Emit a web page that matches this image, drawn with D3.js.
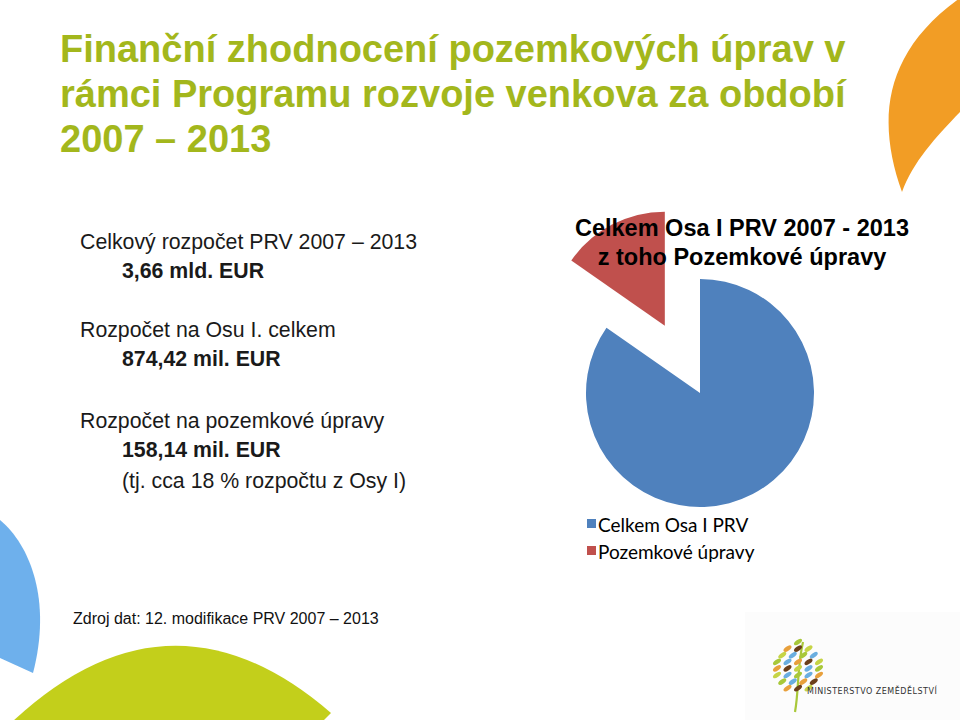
<!DOCTYPE html>
<html lang="cs">
<head>
<meta charset="UTF-8">
<title>Finanční zhodnocení pozemkových úprav</title>
<script src="https://d3js.org/d3.v7.min.js"></script>
<style>
  body { margin: 0; background: #fff; }
  svg { display: block; }
</style>
</head>
<body>
<script>
// chart data
var categories = ["Celkem Osa I PRV", "Pozemkové úpravy"];
var values = [874.42, 158.14];
var colors = ["#4f81bd", "#c0504d"];
var explode = [0, 76];

var titleLines = ["Finanční zhodnocení pozemkových úprav v", "rámci Programu rozvoje venkova za období", "2007 – 2013"];
var chartTitle = ["Celkem Osa I PRV 2007 - 2013", "z toho Pozemkové úpravy"];
var bullets = [
  {head: "Celkový rozpočet PRV 2007 – 2013", sub: ["3,66 mld. EUR"]},
  {head: "Rozpočet na Osu I. celkem", sub: ["874,42 mil. EUR"]},
  {head: "Rozpočet na pozemkové úpravy", sub: ["158,14 mil. EUR", "(tj. cca 18 % rozpočtu z Osy I)"]}
];
var source = "Zdroj dat: 12. modifikace PRV 2007 – 2013";

var svg = d3.select("body").append("svg")
  .attr("width", 960)
  .attr("height", 720);

// decorative shapes of the slide
svg.append("path")
  .attr("d", "M902,192 C878,125 880,55 960,-2 L960,112 C935,138 913,162 902,192 Z")
  .attr("fill", "#f29d25");
svg.append("path")
  .attr("d", "M0,520 C30,545 52,600 33,673 L0,658 Z")
  .attr("fill", "#6eb0ec");
svg.append("path")
  .attr("d", "M12,722 Q170,574 331,713 L322,722 Z")
  .attr("fill", "#c3cf1b");
svg.append("rect")
  .attr("x", 745).attr("y", 612).attr("width", 215).attr("height", 108)
  .attr("fill", "#fcfcfc");

// title
svg.append("g").selectAll("text")
  .data(titleLines)
  .join("text")
  .attr("x", 60)
  .attr("y", (d, i) => 62 + i * 45)
  .attr("font-family", "Liberation Sans, Arial, sans-serif")
  .attr("font-weight", "bold")
  .attr("font-size", 38)
  .attr("fill", "#a3b71c")
  .text(d => d);

// left text block
var tb = svg.append("g")
  .attr("font-family", "Liberation Sans, Arial, sans-serif")
  .attr("font-size", 21.3)
  .attr("fill", "#1a1a1a");
var ty = [249, 337, 428];
bullets.forEach(function(b, i) {
  tb.append("text").attr("x", 80).attr("y", ty[i]).text(b.head);
  b.sub.forEach(function(s, j) {
    tb.append("text")
      .attr("x", 122)
      .attr("y", ty[i] + 29 + j * 31)
      .attr("font-weight", j == 0 ? "bold" : "normal")
      .text(s);
  });
});

svg.append("text")
  .attr("x", 73).attr("y", 624)
  .attr("font-family", "Liberation Sans, Arial, sans-serif")
  .attr("font-size", 16)
  .attr("fill", "#111")
  .text(source);

// pie
var cx = 700, cy = 393, r = 114;
var pie = d3.pie().sort(null).value(d => d);
var arc = d3.arc().innerRadius(0).outerRadius(r);
var arcs = pie(values);

var pg = svg.append("g").attr("transform", "translate(" + cx + "," + cy + ")");
pg.selectAll("path")
  .data(arcs)
  .join("path")
  .attr("d", arc)
  .attr("fill", (d, i) => colors[i])
  .attr("transform", function(d, i) {
    var a = (d.startAngle + d.endAngle) / 2;
    return "translate(" + (Math.sin(a) * explode[i]) + "," + (-Math.cos(a) * explode[i]) + ")";
  });

// chart title
svg.append("g").selectAll("text")
  .data(chartTitle)
  .join("text")
  .attr("x", 742)
  .attr("y", (d, i) => 236 + i * 29)
  .attr("text-anchor", "middle")
  .attr("font-family", "Liberation Sans, Arial, sans-serif")
  .attr("font-weight", "bold")
  .attr("font-size", 23.5)
  .attr("fill", "#000")
  .text(d => d);

// legend
var lg = svg.append("g").selectAll("g")
  .data(categories)
  .join("g")
  .attr("transform", (d, i) => "translate(587," + (519 + i * 27) + ")");
lg.append("rect")
  .attr("width", 9).attr("height", 9)
  .attr("fill", (d, i) => colors[i]);
lg.append("text")
  .attr("x", 11).attr("y", 13)
  .attr("font-family", "Lato, Open Sans, sans-serif")
  .attr("font-size", 19)
  .attr("fill", "#000")
  .text(d => d);

// ministry logo
var logo = svg.append("g");
logo.append("path")
  .attr("d", "M795,712 C799,690 797,668 803,642")
  .attr("stroke", "#a9c83a").attr("stroke-width", 2.2).attr("fill", "none");
var leafCols = ["#a8c83a", "#6aaee0", "#e8a03c", "#6b3f1a", "#c6d446", "#6aaee0"];
var leaves = [];
var rows = [1, 3, 4, 5, 5, 5, 4, 3];
rows.forEach(function(n, ri) {
  for (var k = 0; k < n; k++) {
    leaves.push({x: 798 + (k - (n - 1) / 2) * 10.5, y: 642 + ri * 6.6, c: leafCols[(ri * 2 + k) % leafCols.length]});
  }
});
logo.selectAll("ellipse")
  .data(leaves)
  .join("ellipse")
  .attr("cx", d => d.x).attr("cy", d => d.y)
  .attr("rx", 4.6).attr("ry", 2.2)
  .attr("transform", d => "rotate(-35," + d.x + "," + d.y + ")")
  .attr("fill", d => d.c);
logo.append("text")
  .attr("x", 807).attr("y", 694)
  .attr("font-family", "DejaVu Sans, sans-serif")
  .attr("font-size", 8)
  .attr("letter-spacing", 0.5)
  .attr("fill", "#333")
  .text("MINISTERSTVO ZEMĚDĚLSTVÍ");
</script>
</body>
</html>
